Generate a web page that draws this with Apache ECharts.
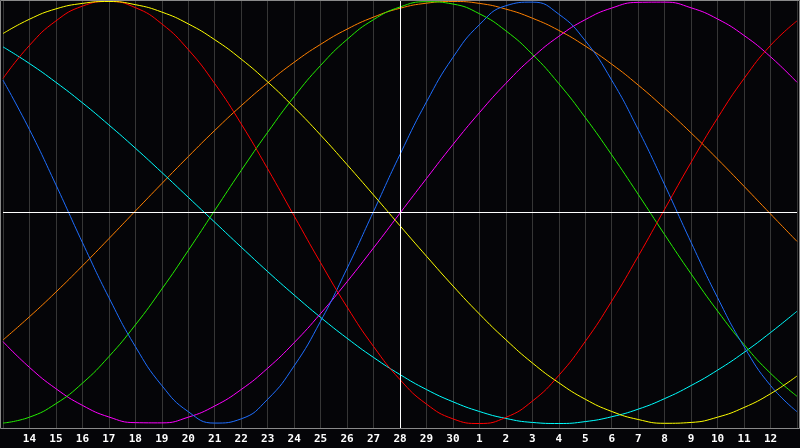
<!DOCTYPE html>
<html>
<head>
<meta charset="utf-8">
<script src="https://cdn.jsdelivr.net/npm/echarts@6/dist/echarts.min.js"></script>
<style>
  html, body { margin: 0; padding: 0; background: #050508; }
  #chart { width: 800px; height: 448px; }
</style>
</head>
<body>
<div id="chart"></div>
<script>
// Day labels (index 0 and 30 sit on the plot edges and are not labelled)
var days = ['13','14','15','16','17','18','19','20','21','22','23','24','25','26','27','28','29','30',
            '1','2','3','4','5','6','7','8','9','10','11','12','13'];
var todayIndex = 15; // day 28, white vertical line

// Curve values (one value per day, -1 .. 1)
var physical = [0.627,0.393,0.131,-0.142,-0.403,-0.635,-0.820,-0.944,-0.998,-0.978,-0.885,-0.727,-0.515,-0.265,0.005,0.275,0.524,0.735,0.890,0.980,0.997,0.940,0.814,0.627,0.393,0.131,-0.142,-0.404,-0.636,-0.820,-0.944];
var emotional = [0.635,0.792,0.908,0.978,1.000,0.971,0.894,0.772,0.611,0.420,0.207,-0.016,-0.238,-0.448,-0.635,-0.792,-0.908,-0.978,-1.000,-0.971,-0.894,-0.772,-0.611,-0.420,-0.207,0.016,0.238,0.448,0.635,0.792,0.908];
var intellectual = [-0.998,-0.970,-0.906,-0.809,-0.683,-0.533,-0.363,-0.180,0.010,0.199,0.380,0.549,0.697,0.820,0.914,0.974,0.999,0.988,0.942,0.861,0.750,0.611,0.450,0.273,0.086,-0.105,-0.291,-0.467,-0.626,-0.762,-0.871];
var intuitive = [-0.612,-0.734,-0.835,-0.914,-0.969,-0.996,-0.997,-0.970,-0.917,-0.839,-0.738,-0.617,-0.479,-0.328,-0.168,-0.003,0.161,0.322,0.473,0.612,0.734,0.835,0.914,0.969,0.996,0.997,0.970,0.917,0.839,0.738,0.617];
var aesthetic = [0.848,0.916,0.965,0.991,1.000,0.985,0.950,0.894,0.819,0.727,0.619,0.498,0.367,0.227,0.083,-0.063,-0.207,-0.348,-0.481,-0.603,-0.713,-0.807,-0.885,-0.943,-0.981,-0.999,-0.995,-0.970,-0.924,-0.859,-0.775];
var awareness = [-0.604,-0.494,-0.377,-0.253,-0.124,0.007,0.137,0.265,0.389,0.506,0.614,0.712,0.797,0.869,0.926,0.968,0.992,1.000,0.991,0.964,0.921,0.863,0.789,0.703,0.604,0.494,0.377,0.253,0.124,-0.007,-0.137];
var spiritual = [0.785,0.706,0.617,0.520,0.415,0.305,0.190,0.072,-0.046,-0.164,-0.280,-0.391,-0.497,-0.596,-0.687,-0.768,-0.839,-0.897,-0.943,-0.976,-0.995,-1.000,-0.991,-0.968,-0.932,-0.882,-0.820,-0.747,-0.663,-0.569,-0.468];

var chart = echarts.init(document.getElementById('chart'), null, { renderer: 'canvas' });

function line(name, data, color) {
  return {
    name: name, type: 'line', data: data, smooth: true, showSymbol: false, symbol: 'none',
    lineStyle: { color: color, width: 1 }, itemStyle: { color: color }, silent: true
  };
}

var series = [
  line('Awareness', awareness, '#ff8000'),
  line('Spiritual', spiritual, '#00ffff'),
  line('Intuitive', intuitive, '#ff00ff'),
  line('Intellectual', intellectual, '#22ee00'),
  line('Physical', physical, '#1e6eff'),
  line('Emotional', emotional, '#ff0000'),
  line('Aesthetic', aesthetic, '#ffff00')
];
series[0].markLine = {
  silent: true, symbol: 'none', label: { show: false },
  lineStyle: { color: '#ffffff', width: 1, type: 'solid' },
  data: [ { xAxis: todayIndex }, { yAxis: 0 } ]
};

chart.setOption({
  backgroundColor: '#050508',
  animation: false,
  grid: { left: 0, right: 0, top: 0, height: 428, show: false },
  xAxis: {
    type: 'category', data: days, boundaryGap: false,
    axisLine: { show: false }, axisTick: { show: false },
    axisLabel: {
      color: '#ffffff', fontFamily: 'DejaVu Sans Mono', fontWeight: 'bold', fontSize: 11,
      margin: 6, interval: 0,
      formatter: function (v, i) { return (i === 0 || i === days.length - 1) ? '' : v; }
    },
    splitLine: { show: true, interval: 0, lineStyle: { color: '#363636', width: 1 } }
  },
  yAxis: {
    type: 'value', min: -1.02133, max: 1.00711, show: false,
    splitLine: { show: false }
  },
  graphic: [{
    type: 'rect', z: 100, silent: true,
    shape: { x: 0.5, y: 0.5, width: 799, height: 428 },
    style: { fill: null, stroke: '#8a8a8a', lineWidth: 1 }
  }],
  series: series
});
</script>
</body>
</html>
